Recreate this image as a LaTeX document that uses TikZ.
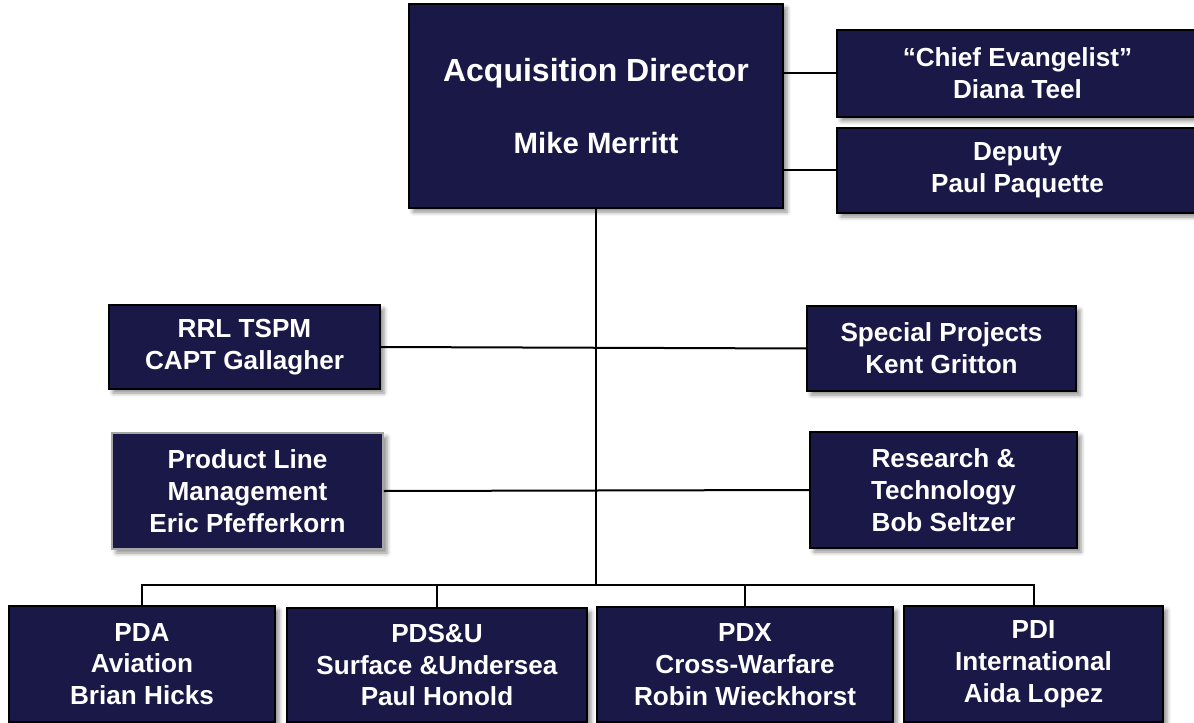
\documentclass[tikz,border=0pt]{standalone}
\usepackage{fontspec}
\setmainfont{Liberation Sans}
\usetikzlibrary{shadows.blur}

\definecolor{navybox}{RGB}{26,24,70}

\begin{document}
\begin{tikzpicture}[x=0.75pt, y=-0.75pt]

  \tikzstyle{unit} = [draw=black, line width=1.2pt, fill=navybox, text=white, align=center,
    inner sep=0pt, font=\bfseries\fontsize{19.6}{23.8}\selectfont,
    blur shadow={shadow xshift=3pt, shadow yshift=-3pt, shadow blur radius=3pt, shadow opacity=45}]
  \tikzstyle{link} = [line width=1.5pt]

  \useasboundingbox (0,0) rectangle (1194,723);

  \node[unit, minimum width=280.5pt, minimum height=153pt, font=\bfseries\fontsize{22}{54}\selectfont]
    (dir) at (596,106) {{\fontsize{24}{54}\selectfont Acquisition Director}\\Mike Merritt};

  \node[unit, minimum width=270.75pt, minimum height=65.25pt] (chief) at (1017.5,73.5)
    {``Chief Evangelist''\\Diana Teel};
  \node[unit, minimum width=270.75pt, minimum height=63.75pt] (deputy) at (1017.5,170.5)
    {Deputy\\Paul Paquette};

  \node[unit, minimum width=203.25pt, minimum height=63pt] (rrl) at (244.5,347)
    {RRL TSPM\\CAPT Gallagher};
  \node[unit, minimum width=201.75pt, minimum height=63.75pt] (special) at (941.5,348.5)
    {Special Projects\\Kent Gritton};

  \node[unit, draw=gray!70, minimum width=203.25pt, minimum height=87pt] (plm) at (247.5,491)
    {Product Line\\Management\\Eric Pfefferkorn};
  \node[unit, minimum width=200.25pt, minimum height=87pt] (research) at (943.5,490)
    {Research \&\\Technology\\Bob Seltzer};

  \node[unit, minimum width=199.5pt, minimum height=87pt] (pda) at (142,664)
    {PDA\\Aviation\\Brian Hicks};
  \node[unit, minimum width=225pt, minimum height=85.5pt] (pdsu) at (437,665)
    {PDS\&U\\Surface \&Undersea\\Paul Honold};
  \node[unit, minimum width=222pt, minimum height=86.25pt] (pdx) at (745,664.5)
    {PDX\\Cross-Warfare\\Robin Wieckhorst};
  \node[unit, minimum width=194.25pt, minimum height=87pt] (pdi) at (1033.5,664)
    {PDI\\International\\Aida Lopez};

  \coordinate (hub) at (596,585);

  \draw[link] (dir.south) -- (hub);
  \draw[link] (chief.west) -- (chief.west -| dir.east);
  \draw[link] (deputy.west) -- (deputy.west -| dir.east);
  \draw[link] (rrl.east) -- (special.west);
  \draw[link] (plm.east) -- (research.west);
  \draw[link] (pda.north) |- (pdi.north |- hub) -- (pdi.north);
  \draw[link] (pdsu.north) -- (pdsu.north |- hub);
  \draw[link] (pdx.north) -- (pdx.north |- hub);

\end{tikzpicture}
\end{document}
